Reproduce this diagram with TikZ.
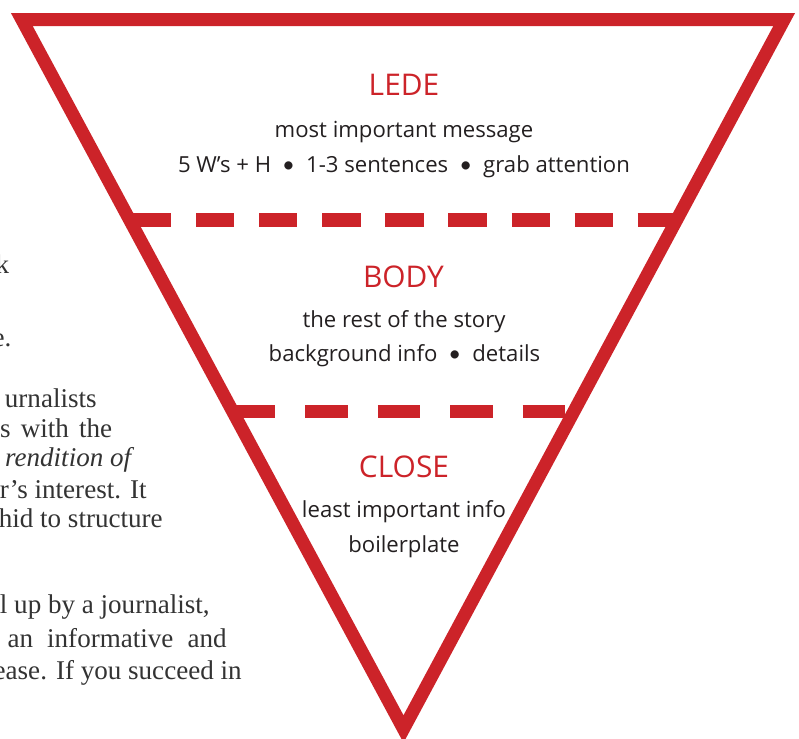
\documentclass[tikz,border=0pt]{standalone}
\usepackage{fontspec}
\setmainfont{Liberation Serif}
\newfontfamily\funnelfont{Open Sans}
\newfontfamily\dotfont{Lato}
\definecolor{ledered}{RGB}{204,35,41}
\definecolor{inkgray}{RGB}{35,31,32}
\definecolor{pagegray}{RGB}{51,51,51}
\newcommand{\dotsep}{\hspace{0.5em}{\dotfont\textbullet}\hspace{0.5em}}

\begin{document}
\begin{tikzpicture}[scale=0.2,
  funnel/.style={draw=ledered,line width=7.4pt,line join=miter},
  cut/.style={draw=ledered,line width=7.9pt,dash pattern=on 21.8pt off 14.1pt},
  cutlow/.style={draw=ledered,line width=7.4pt,dash pattern=on 24.1pt off 17.1pt},
  head/.style={font=\funnelfont\fontsize{17}{20}\selectfont,text=ledered,anchor=base,inner sep=0pt},
  note/.style={font=\funnelfont\fontsize{12.6}{15}\selectfont,text=inkgray,anchor=base,inner sep=0pt},
  page/.style={font=\fontsize{15.4}{18}\selectfont,text=pagegray,anchor=base east,inner sep=0pt}]
\clip (0,0) rectangle (79.9,-73.8);
\coordinate (tl) at (2.18,-1.95);
\coordinate (tr) at (78.42,-1.95);
\coordinate (tip) at (40.35,-72.9);
\coordinate (d1l) at (13.3,-22);
\coordinate (d1r) at (67.8,-22);
\coordinate (d2l) at (23.3,-41.15);
\coordinate (d2r) at (57.3,-41.15);
\draw [cut] (d1l) -- (d1r);
\draw [cutlow] (d2l) -- (d2r);
\draw [funnel] (tl) -- (tr) -- (tip) -- cycle;
\node [head] (lede) at (40.4,-9.5) {LEDE};
\node [note] (ledeA) at (40.4,-13.7) {most important message};
\node [note] (ledeB) at (40.4,-17.27) {5 W’s + H\dotsep 1-3 sentences\dotsep grab attention};
\node [head] (body) at (40.35,-28.7) {BODY};
\node [note] (bodyA) at (40.4,-32.7) {the rest of the story};
\node [note] (bodyB) at (40.45,-36.1) {background info\dotsep details};
\node [head] (close) at (40.4,-47.7) {CLOSE};
\node [note] (closeA) at (40.4,-51.7) {least important info};
\node [note] (closeB) at (40.4,-55.2) {boilerplate};
\node [page] (p1) at (0.95,-27.3) {k};
\node [page] (p2) at (1.17,-34.6) {e.};
\node [page] (p3) at (9.7,-40.7) {urnalists};
\node [page] (p4) at (11.25,-43.7) {\makebox[63.8pt][s]{s with the}};
\node [page] (p5) at (13.15,-46.6) {\itshape rendition of};
\node [page] (p6) at (14.7,-49.8) {er’s interest. It};
\node [page] (p7) at (16.3,-52.7) {hid to structure};
\node [page] (p8) at (21.0,-61.3) {l up by a journalist,};
\node [page] (p9) at (22.7,-64.7) {\makebox[124.7pt][s]{an informative and}};
\node [page] (p10) at (24.2,-67.9) {ease. If you succeed in};
\end{tikzpicture}
\end{document}
